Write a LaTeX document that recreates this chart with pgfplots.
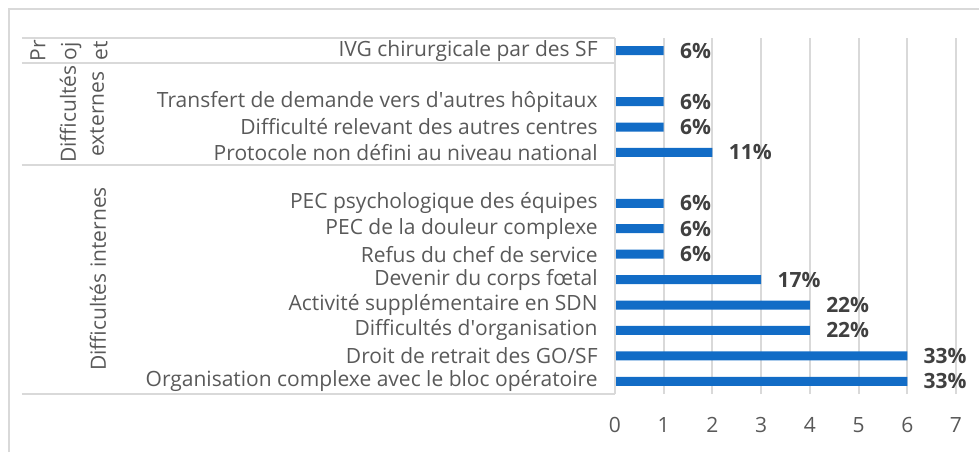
\documentclass[border=0pt]{standalone}
\usepackage{pgfplots}
\pgfplotsset{compat=1.18}
\usepackage{pgfplotstable}
\usepackage{fontspec}
\setmainfont{Open Sans}
\definecolor{barblue}{RGB}{18,108,198}
\definecolor{txt}{RGB}{89,89,89}
\definecolor{lbl}{RGB}{64,64,64}
\definecolor{gridc}{RGB}{217,217,217}
\pgfkeys{/pgf/number format/assume math mode=true}

% pos = slot from the bottom, count = bar length, pct = label
\pgfplotstableread{
pos count pct
13 1 6
11 1 6
10 1 6
9  2 11
7  1 6
6  1 6
5  1 6
4  3 17
3  4 22
2  4 22
1  6 33
0  6 33
}\data

\begin{document}
\begin{tikzpicture}[font=\fontsize{10.5}{12.5}\selectfont]
% 1px of the reference = 0.5pt here
\useasboundingbox (0pt,0pt) rectangle (489.5pt,-226pt);
\draw[gridc, line width=0.8pt] (4.5pt,-226pt) -- (4.5pt,-4.5pt) -- (489.5pt,-4.5pt);

\begin{axis}[
    at={(307.5pt,-197pt)}, anchor=south west,
    scale only axis, width=170.5pt, height=178pt,
    xmin=0, xmax=7, ymin=-0.5, ymax=13.5,
    xtick={0,...,7}, ytick={0,...,13},
    yticklabels={
        Organisation complexe avec le bloc opératoire\hspace{0.3em},
        Droit de retrait des GO/SF,
        Difficultés d\textquotesingle organisation\hspace{0.3em},
        Activité supplémentaire en SDN\hspace{0.4em},
        Devenir du corps fœtal\hspace{0.3em},
        Refus du chef de service,
        PEC de la douleur complexe,
        PEC psychologique des équipes,
        {},
        Protocole non défini au niveau national,
        Difficulté relevant des autres centres,
        Transfert de demande vers d\textquotesingle autres hôpitaux,
        {},
        IVG chirurgicale par des SF},
    major tick length=0pt,
    axis line style={draw=none},
    xmajorgrids, major grid style={gridc, line width=1pt},
    xticklabel style={anchor=center, yshift=-15.5pt, text=txt},
    yticklabel style={anchor=east, inner sep=0pt, xshift=-8.5pt, text=txt},
    clip=false,
]
\addplot[xbar, fill=barblue, draw=none, bar width=4.5pt, bar shift=0pt,
    point meta=explicit,
    nodes near coords={\pgfmathprintnumber{\pgfplotspointmeta}\%},
    every node near coord/.append style={anchor=west, inner sep=0pt,
        xshift=8pt, font=\fontsize{10.5}{12.5}\selectfont\bfseries, text=lbl},
] table[x=count, y=pos, meta=pct] {\data};

% lines of the category table
\draw[gridc, line width=1pt] (axis cs:0,-0.5) -- (axis cs:0,13.5);
\draw[gridc, line width=1pt] ([xshift=-296.5pt]axis cs:0,-0.5) -- (axis cs:0,-0.5);
\draw[gridc, line width=1pt] ([xshift=-296.5pt]axis cs:0,8.5) -- (axis cs:0,8.5);
\draw[gridc, line width=1pt] ([xshift=-296.5pt]axis cs:0,12.5) -- (axis cs:0,12.5);
\draw[gridc, line width=1pt] ([xshift=-296.5pt]axis cs:0,13.5) -- (axis cs:0,13.5);
\end{axis}

% group labels
\node[rotate=90, text=txt, inner sep=0pt] at (49pt,-139.5pt) {Difficultés internes};
\node[rotate=90, text=txt, inner sep=0pt, align=center,
      font=\fontsize{10.5}{14}\selectfont] at (41pt,-57pt) {Difficultés\\externes};
\node[rotate=90, text=txt, inner sep=0pt, align=center,
      font=\fontsize{10.5}{15.5}\selectfont] at (34.5pt,-25.5pt) {Pr\\oj\\et};
\end{tikzpicture}
\end{document}
